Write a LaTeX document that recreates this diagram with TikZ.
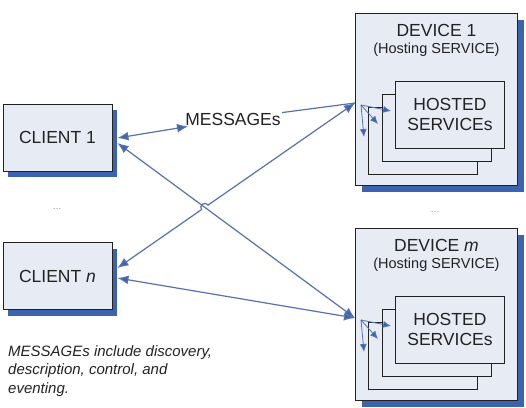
\documentclass[tikz,border=0pt]{standalone}
\usepackage{fontspec}
\setmainfont{Liberation Sans}
\usetikzlibrary{arrows.meta,calc,shadows}

\definecolor{boxfill}{HTML}{E6EBF4}
\definecolor{shadowblue}{HTML}{3C63B0}
\definecolor{linkblue}{HTML}{5672AE}
\definecolor{inkgray}{HTML}{222222}

\tikzset{
    boxbase/.style={draw=inkgray, line width=0.9pt, fill=boxfill, inner sep=0pt,
        text=inkgray},
    client/.style={boxbase, minimum width=109pt, minimum height=67pt,
        font=\fontsize{17.5}{20}\selectfont,
        drop shadow={shadow xshift=5pt, shadow yshift=-6pt, fill=shadowblue, opacity=1}},
    device/.style={boxbase, minimum width=162pt, minimum height=172pt, anchor=north west,
        drop shadow={shadow xshift=7pt, shadow yshift=-7pt, fill=shadowblue, opacity=1}},
    hosted/.style={boxbase, minimum width=109pt, minimum height=67pt, anchor=north west,
        align=center, font=\fontsize{17.5}{20}\selectfont},
    devtitle/.style={text=inkgray, font=\fontsize{17.5}{20}\selectfont},
    devsub/.style={text=inkgray, font=\fontsize{14.5}{17}\selectfont},
    dots/.style={text=gray, font=\fontsize{9}{10}\selectfont},
    link/.style={draw=linkblue, line width=1.2pt,
        {Latex[length=11pt,width=9pt,fill=shadowblue]}-{Latex[length=11pt,width=9pt,fill=shadowblue]}},
    fan/.style={draw=linkblue, line width=0.8pt, -{Latex[length=8pt,width=7pt,fill=shadowblue]}},
    msg/.style={fill=white, inner sep=1pt, text=inkgray, font=\fontsize{17.5}{20}\selectfont},
    note/.style={anchor=north west, align=left, inner sep=0pt, text=inkgray,
        font=\fontsize{15}{18.5}\selectfont\itshape},
}

\begin{document}
\begin{tikzpicture}[x=1pt,y=-1pt]
    % Canvas matching the 526 x 407 px reference
    \useasboundingbox (0,0) rectangle (526,407);

    % Clients on the left
    \node[client] (cl1) at (57.5,137.5) {CLIENT 1};
    \node[client] (cln) at (57.5,276) {CLIENT \textit{n}};
    \node[dots] (cldots) at (57,209) {\dots};

    % Devices on the right, each with three stacked hosted services
    \foreach \dev/\ty/\name in {dev1/13/{DEVICE 1}, devm/228/{DEVICE \textit{m}}} {
        \node[device] (\dev) at (355,\ty) {};
        \node[devtitle] (\dev-title) at ($(\dev.north)+(0,17)$) {\name};
        \node[devsub] (\dev-sub) at ($(\dev.north)+(0,37)$) {(Hosting SERVICE)};

        % back to front
        \node[hosted] (\dev-back) at ($(\dev.north west)+(13,94)$) {};
        \node[hosted] (\dev-middle) at ($(\dev.north west)+(27,81)$) {};
        \node[hosted] (\dev-front) at ($(\dev.north west)+(40,68)$) {HOSTED\\SERVICEs};

        % where the messages come in, and where they are handed on
        \coordinate (in\dev) at ($(\dev.north west)+(0,90)$);
        \coordinate (hub\dev) at ($(\dev.north west)+(6,92)$);
        \foreach \layer in {back,middle,front} {
            \draw[fan] (hub\dev) -- ($(\dev-\layer.north west)+(-4,30)$);
        }
    }
    \node[dots] (devdots) at (435,212) {\dots};

    % Ports on the client shadows
    \coordinate (cla) at ($(cl1.east)+(5,0.5)$);
    \coordinate (clb) at ($(cl1.east)+(5,5.5)$);
    \coordinate (cna) at ($(cln.east)+(5,-8)$);
    \coordinate (cnb) at ($(cln.east)+(5,2)$);

    % Message links
    \node[msg] (msg) at (233,119) {MESSAGEs};
    \draw[link] (indev1) -- (msg) -- (cla);
    \draw[link] (clb) -- (indevm);
    \draw[link] (cnb) -- (indevm);

    % Crossing link with a small hop
    \coordinate (cross) at (intersection of clb--indevm and cna--indev1);
    \draw[link] (cna) -- ($(cross)!4pt!(cna)$)
        arc[start angle=214.6, end angle=34.6, radius=4pt] -- (indev1);

    % Footnote
    \node[note] (note) at (8,345) {MESSAGEs include discovery,\\description, control, and\\eventing.};
\end{tikzpicture}
\end{document}
